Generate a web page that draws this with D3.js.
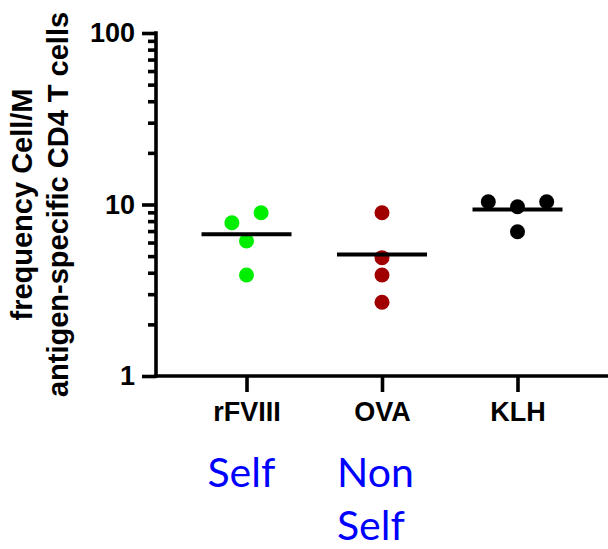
<!DOCTYPE html>
<html>
<head>
<meta charset="utf-8">
<script src="https://cdn.jsdelivr.net/npm/d3@7/dist/d3.min.js"></script>
<style>
  html, body { margin: 0; padding: 0; background: #fff; }
  svg { display: block; }
</style>
</head>
<body>
<svg id="chart" width="608" height="549"></svg>
<script>
// Antigen-specific CD4 T cell frequencies (cells per million), one array per antigen
const categories = ["rFVIII", "OVA", "KLH"];
const rFVIII = [7.83, 8.96, 6.13, 3.88];
const OVA = [8.96, 4.90, 3.88, 2.69];
const KLH = [10.38, 9.71, 10.38, 6.94];
const seriesValues = [rFVIII, OVA, KLH];
const seriesColors = ["#00ee00", "#a00000", "#000000"];
const yMajorTicks = [1, 10, 100];
const yMinorTicks = [2, 3, 4, 5, 6, 7, 8, 9, 20, 30, 40, 50, 60, 70, 80, 90];
const yTitleLines = ["frequency Cell/M", "antigen-specific CD4 T cells"];

const svg = d3.select("#chart");
const axisX0 = 156, axisX1 = 608;
const yTop = 33, yBottom = 376;
const dotR = 7.5, dodge = 29.2, meanHalf = 45;
const boldFont = "'Liberation Sans', Arial, sans-serif";

const y = d3.scaleLog().domain([1, 100]).range([yBottom, yTop]);
const x = d3.scalePoint().domain(categories).range([axisX0, axisX1]).padding(0.668);

// Y axis: labelled decades plus unlabelled minor ticks
const yMajor = svg.append("g")
  .attr("transform", `translate(${axisX0},0)`)
  .call(d3.axisLeft(y).tickValues(yMajorTicks).tickFormat(d3.format("d"))
    .tickSize(14).tickSizeOuter(0).tickPadding(7));
const yMinor = svg.append("g")
  .attr("transform", `translate(${axisX0},0)`)
  .call(d3.axisLeft(y).tickValues(yMinorTicks).tickFormat("").tickSize(8).tickSizeOuter(0));
yMinor.select(".domain").remove();

// X axis
const xAxis = svg.append("g")
  .attr("transform", `translate(0,${y(1)})`)
  .call(d3.axisBottom(x).tickSize(16).tickSizeOuter(0).tickPadding(10));
xAxis.select(".domain").attr("d", `M${axisX0 - 2},0H${axisX1}`);

[yMajor, yMinor, xAxis].forEach(g => {
  g.selectAll(".domain, .tick line")
    .attr("stroke", "#000").attr("stroke-width", 3.6).attr("stroke-linecap", "butt");
  g.selectAll("text")
    .attr("fill", "#000").attr("font-family", boldFont)
    .attr("font-weight", "bold").attr("font-size", 27);
});
yMajor.select(".domain").attr("d", `M0,${yTop - 1.8}V${yBottom + 1.8}`);

// Y axis title, two rotated lines
const titleCx = (yTop + yBottom) / 2;
[31.7, 68.3].forEach((bx, i) => {
  svg.append("text")
    .attr("transform", `translate(${bx},${titleCx}) rotate(-90)`)
    .attr("text-anchor", "middle")
    .attr("font-family", boldFont).attr("font-weight", "bold").attr("font-size", 29)
    .attr("fill", "#000")
    .text(yTitleLines[i]);
});

// Scatter points: points that would overlap vertically are spread side by side
categories.forEach((cat, ci) => {
  const vals = seriesValues[ci];
  const order = vals.map((v, i) => i).sort((a, b) => y(vals[a]) - y(vals[b]));
  const groups = [];
  order.forEach(i => {
    const g = groups[groups.length - 1];
    if (g && Math.abs(y(vals[i]) - y(vals[g[g.length - 1]])) < 2 * dotR + 1) g.push(i);
    else groups.push([i]);
  });
  const offsets = new Array(vals.length).fill(0);
  groups.forEach(g => {
    g.sort((a, b) => a - b).forEach((idx, k) => { offsets[idx] = (k - (g.length - 1) / 2) * dodge; });
  });

  svg.append("g").selectAll("circle")
    .data(vals)
    .join("circle")
    .attr("cx", (d, i) => x(cat) + offsets[i])
    .attr("cy", d => y(d))
    .attr("r", dotR)
    .attr("fill", seriesColors[ci]);

  const mean = d3.mean(vals);
  svg.append("line")
    .attr("x1", x(cat) - meanHalf).attr("x2", x(cat) + meanHalf)
    .attr("y1", y(mean)).attr("y2", y(mean))
    .attr("stroke", "#000").attr("stroke-width", 4);
});

// Self / Non Self annotations under the categories
const noteFont = "Lato, 'Open Sans', sans-serif";
const notes = [
  { cat: "rFVIII", dx: -39, lines: ["Self"] },
  { cat: "OVA", dx: -45, lines: ["Non", "Self"] }
];
notes.forEach(n => {
  n.lines.forEach((t, i) => {
    svg.append("text")
      .attr("x", x(n.cat) + n.dx)
      .attr("y", 486.7 + i * 53.5)
      .attr("font-family", noteFont).attr("font-size", 41)
      .attr("fill", "#0000ff")
      .text(t);
  });
});
</script>
</body>
</html>
